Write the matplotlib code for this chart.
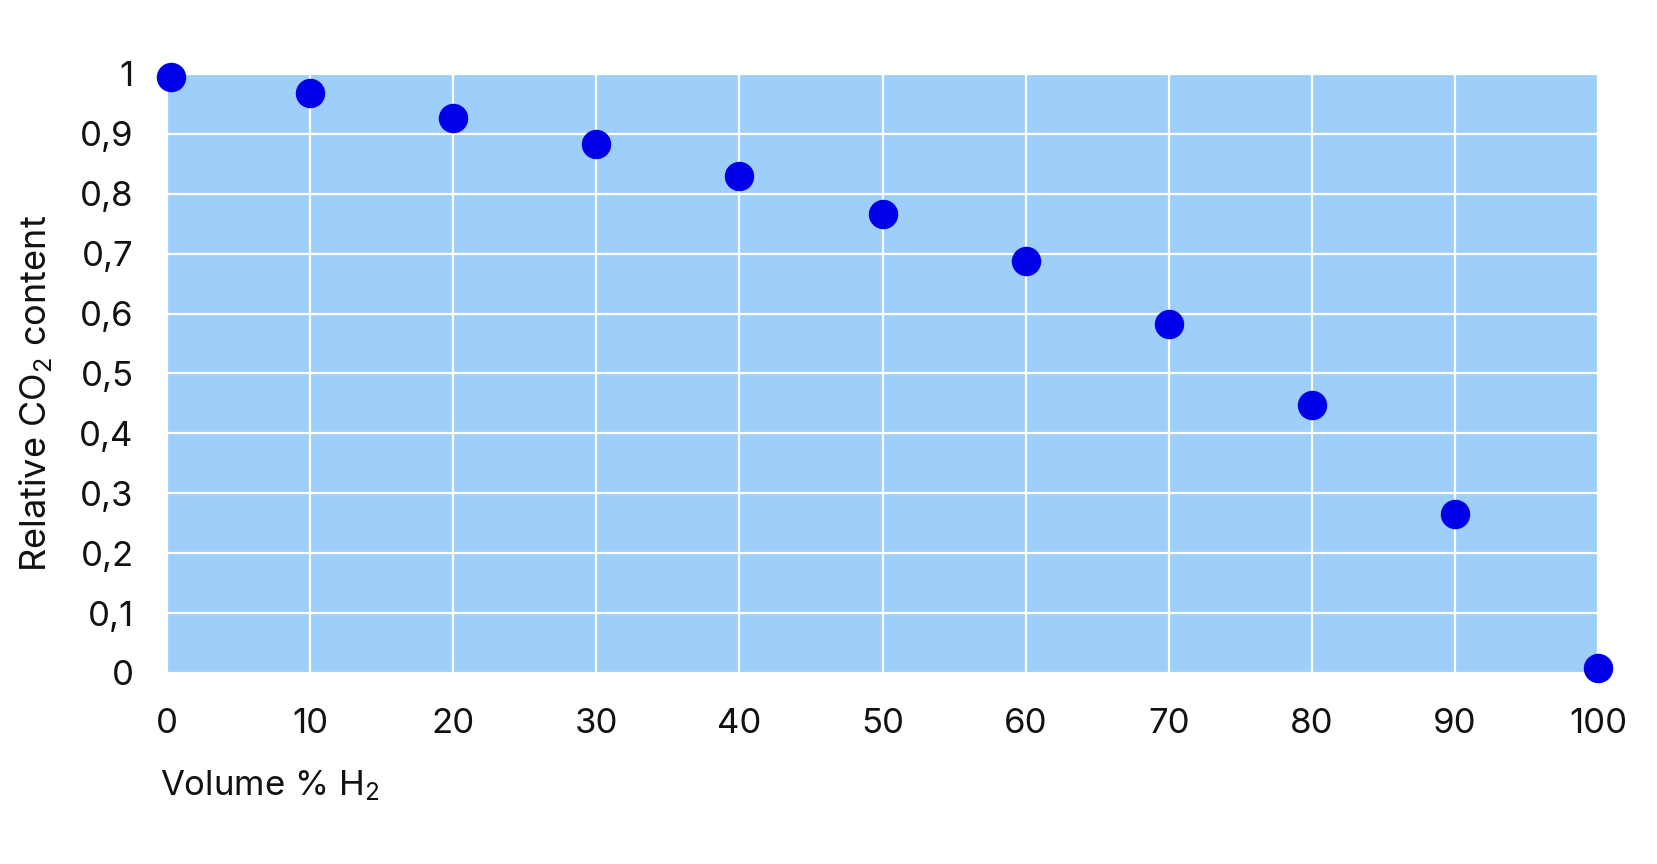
import numpy as np
import matplotlib.pyplot as plt

plt.rcParams['font.family'] = ['Inter', 'DejaVu Sans']
plt.rcParams['mathtext.fontset'] = 'custom'
plt.rcParams['mathtext.rm'] = 'Inter'
plt.rcParams['mathtext.it'] = 'Inter'

# data
h2 = [0.3, 10, 20, 30, 40, 50, 60, 70, 80, 90, 100]
co2 = [0.995, 0.969, 0.926, 0.883, 0.830, 0.766, 0.688, 0.583, 0.447, 0.265, 0.009]
xticks = [0, 10, 20, 30, 40, 50, 60, 70, 80, 90, 100]
yticks = [0, 0.1, 0.2, 0.3, 0.4, 0.5, 0.6, 0.7, 0.8, 0.9, 1]
ylabels = ['0', '0,1', '0,2', '0,3', '0,4', '0,5', '0,6', '0,7', '0,8', '0,9', '1']

fig = plt.figure(figsize=(16.57, 8.64), dpi=100)
ax = fig.add_axes([0.1008, 0.2211, 0.8636, 0.6933])
ax.set_facecolor('#9ecffb')

ax.scatter(h2, co2, s=450, color='#0000e8', zorder=3, clip_on=False, linewidths=0)

ax.set_xlim(0, 100)
ax.set_ylim(0, 1)
ax.set_xticks(xticks)
ax.set_yticks(yticks)
ax.set_yticklabels(ylabels)
ax.grid(True, color='white', linewidth=1.6)
ax.set_axisbelow(True)
for s in ax.spines.values():
    s.set_visible(False)
ax.tick_params(axis='both', length=0, labelsize=25, colors='#111111')
ax.tick_params(axis='y', pad=24)
ax.tick_params(axis='x', pad=25)

ax.set_ylabel('Relative CO$_2$ content', fontsize=26, color='#111111')
ax.yaxis.set_label_coords(-0.079, 0.466)
fig.text(0.0965, 0.08, 'Volume % H$_2$', fontsize=25, color='#111111', ha='left')

plt.savefig('out.png', dpi=100)
